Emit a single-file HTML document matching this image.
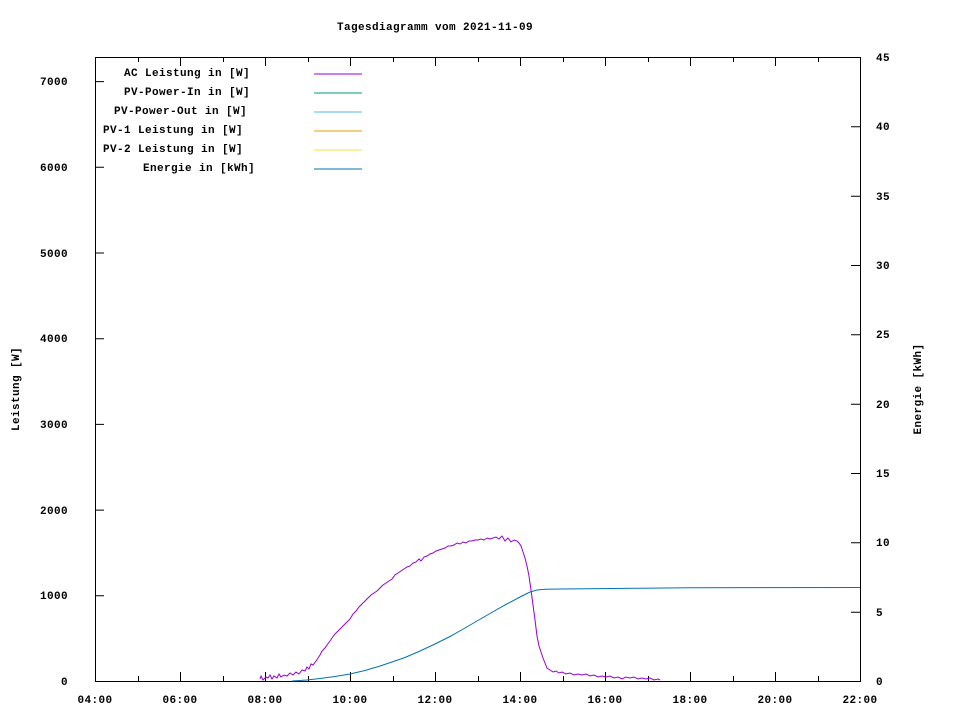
<!DOCTYPE html>
<html><head><meta charset="utf-8"><style>
body{margin:0;background:#fff}
svg{display:block}
text{font-family:"Liberation Mono","DejaVu Sans Mono",monospace;font-weight:bold;font-size:11px;letter-spacing:0.4px;fill:#000}
</style></head><body>
<svg width="960" height="720" viewBox="0 0 960 720" xmlns="http://www.w3.org/2000/svg">
<rect width="960" height="720" fill="#fff"/>
<text x="435" y="30" text-anchor="middle">Tagesdiagramm vom 2021-11-09</text>
<rect x="95.5" y="57.5" width="765" height="624" fill="none" stroke="#000" stroke-width="1"/>
<g stroke="#000" stroke-width="1">
<path d="M95 681.5h9M95 595.8h9M95 510.1h9M95 424.4h9M95 338.7h9M95 253h9M95 167.3h9M95 81.6h9"/>
<path d="M860 681.5h-9M860 612.2h-9M860 542.8h-9M860 473.5h-9M860 404.2h-9M860 334.8h-9M860 265.5h-9M860 196.2h-9M860 126.8h-9M860 57.5h-9"/>
<path d="M180.5 681v-9M265.5 681v-9M350.5 681v-9M435.5 681v-9M520.5 681v-9M605.5 681v-9M690.5 681v-9M775.5 681v-9"/>
<path d="M180.5 57v9M265.5 57v9M350.5 57v9M435.5 57v9M520.5 57v9M605.5 57v9M690.5 57v9M775.5 57v9"/>
<path d="M138.5 681v-5M223.5 681v-5M308.5 681v-5M393.5 681v-5M478.5 681v-5M563.5 681v-5M648.5 681v-5M733.5 681v-5M818.5 681v-5"/>
<path d="M138.5 57v5M223.5 57v5M308.5 57v5M393.5 57v5M478.5 57v5M563.5 57v5M648.5 57v5M733.5 57v5M818.5 57v5"/>
</g>
<g text-anchor="end">
<text x="68" y="685">0</text><text x="68" y="599">1000</text><text x="68" y="514">2000</text><text x="68" y="428">3000</text><text x="68" y="342">4000</text><text x="68" y="257">5000</text><text x="68" y="171">6000</text><text x="68" y="85">7000</text>
</g>
<g text-anchor="start">
<text x="876" y="685">0</text><text x="876" y="616">5</text><text x="876" y="546">10</text><text x="876" y="477">15</text><text x="876" y="408">20</text><text x="876" y="338">25</text><text x="876" y="269">30</text><text x="876" y="200">35</text><text x="876" y="130">40</text><text x="876" y="61">45</text>
</g>
<g text-anchor="middle">
<text x="95" y="703">04:00</text><text x="180" y="703">06:00</text><text x="265" y="703">08:00</text><text x="350" y="703">10:00</text><text x="435" y="703">12:00</text><text x="520" y="703">14:00</text><text x="605" y="703">16:00</text><text x="690" y="703">18:00</text><text x="775" y="703">20:00</text><text x="860" y="703">22:00</text>
</g>
<text transform="translate(19,389) rotate(-90)" text-anchor="middle">Leistung [W]</text>
<text transform="translate(921,389) rotate(-90)" text-anchor="middle">Energie [kWh]</text>
<g text-anchor="end">
<text x="250" y="76">AC Leistung in [W]</text>
<text x="250" y="95">PV-Power-In in [W]</text>
<text x="247" y="114">PV-Power-Out in [W]</text>
<text x="243" y="133">PV-1 Leistung in [W]</text>
<text x="243" y="152">PV-2 Leistung in [W]</text>
<text x="255" y="171">Energie in [kWh]</text>
</g>
<g stroke-width="1">
<path d="M314 74h48" stroke="#9400d3"/>
<path d="M314 93h48" stroke="#009e73"/>
<path d="M314 112h48" stroke="#56b4e9"/>
<path d="M314 131h48" stroke="#e69f00"/>
<path d="M314 150h48" stroke="#f0e442"/>
<path d="M314 169h48" stroke="#0072b2"/>
</g>
<polyline fill="none" stroke="#9400d3" stroke-width="1" points="260,679 261,676 263,680 266,677 268,678 270,675 272,679 274,676 277,678 279,674 281,677 284,675 287,676 290,673 293,675 296,672 299,674 302,670 305,671 307,667 309,669 311,664 313,665 316,661 318,658 320,655 322,651 325,648 327,645 330,641 332,638 335,634 338,631 341,628 344,625 347,622 350,619 353,614 356,611 359,607 362,604 365,601 368,598 371,595 374,593 377,591 380,588 383,585 386,583 389,581 392,579 395,575 398,573 401,571 404,569 407,567 410,566 413,563 416,562 419,559 421,561 424,557 427,556 430,554 433,553 436,551 439,550 442,549 445,548 448,546 451,546 454,545 457,543 460,544 463,542 466,543 469,541 472,541 475,540 478,540 481,539 484,540 487,538 490,539 493,538 496,537 499,539 502,536 505,541 508,538 511,542 514,540 517,541 519,543 521,546 523,552 525,558 527,566 529,576 531,590 533,605 535,620 537,636 539,646 541,652 543,658 545,663 547,668 550,670 553,672 556,671 559,673 562,672 566,674 570,673 574,675 578,674 582,675 586,674 590,676 594,675 598,677 602,676 606,677 610,676 614,678 618,677 622,679 626,677 630,678 634,677 638,679 642,678 646,679 650,678 654,680 658,679 660,680"/>
<polyline fill="none" stroke="#0072b2" stroke-width="1" points="292,681 307,680 320,678.5 335,676.5 350,674 365,670.5 380,666 392,662 405,657.5 420,651 435,644 450,636.5 465,628 477,621 490,613.5 505,605 520,597 530,592 537,590 545,589.3 562,589 600,588.6 640,588.2 690,587.8 760,587.6 860,587.5"/>
</svg>
</body></html>
